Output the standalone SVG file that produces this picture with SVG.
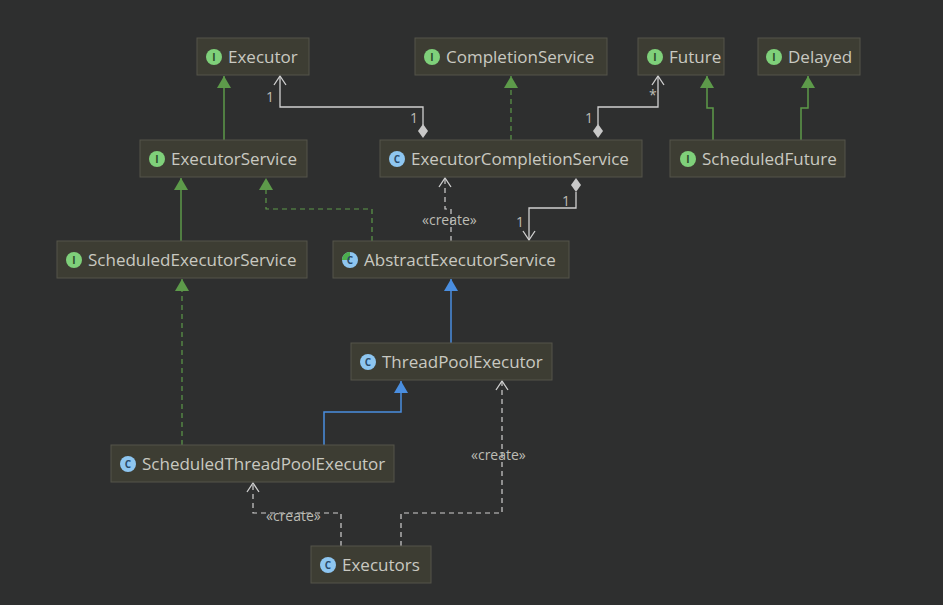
<svg xmlns="http://www.w3.org/2000/svg" width="943" height="605" viewBox="0 0 943 605">
<style>
.n rect{fill:#3d3d33;stroke:#55554a;stroke-width:1}
.n text{font-family:"Open Sans","DejaVu Sans",sans-serif;font-size:17px;fill:#c9c9c1}
.n text.ic{font-size:10px;font-weight:bold;text-anchor:middle;fill:#2b4a2b}
.n text.icc{fill:#2a4a6a}
.ci{fill:#8ec6f0}.ii{fill:#7fd07a}
.gs{stroke:#5d9a4a;stroke-width:1.5;fill:none}
.gd{stroke:#5d9a4a;stroke-width:1.2;fill:none;stroke-dasharray:5,4}
.ws{stroke:#d0d0d0;stroke-width:1.3;fill:none}
.wd{stroke:#d0d0d0;stroke-width:1.2;fill:none;stroke-dasharray:5,4}
.bs{stroke:#4a8ee0;stroke-width:1.5;fill:none}
.lb{font-family:"Open Sans","DejaVu Sans",sans-serif;font-size:14px;fill:#bdbdb5}
</style>
<defs>
<marker id="gt" markerWidth="14" markerHeight="14" refX="13" refY="7" orient="auto" markerUnits="userSpaceOnUse" viewBox="0 0 14 14"><path d="M13 7 L1 0 L1 14 Z" fill="#5d9a4a"/></marker>
<marker id="bt" markerWidth="14" markerHeight="14" refX="13" refY="7" orient="auto" markerUnits="userSpaceOnUse" viewBox="0 0 14 14"><path d="M13 7 L1 0 L1 14 Z" fill="#4a8ee0"/></marker>
<marker id="oa" markerWidth="14" markerHeight="14" refX="13" refY="7" orient="auto" markerUnits="userSpaceOnUse" viewBox="0 0 14 14"><path d="M4 1 L13 7 L4 13" fill="none" stroke="#d0d0d0" stroke-width="1.3"/></marker>
</defs>
<rect width="943" height="605" fill="#2e2f2f"/>
<g id="connectors">
<path class="gs" d="M224 140 V76" marker-end="url(#gt)"/>
<path class="ws" d="M423 125 V107 H280 V76" marker-end="url(#oa)"/>
<path d="M423 124 L428 131 L423 138 L418 131 Z" fill="#c8c8c8"/>
<path class="gd" d="M511 140 V76" marker-end="url(#gt)"/>
<path class="ws" d="M598 125 V107 H658 V76" marker-end="url(#oa)"/>
<path d="M598 124 L603 131 L598 138 L593 131 Z" fill="#c8c8c8"/>
<path class="gs" d="M713 140 V108 H707 V76" marker-end="url(#gt)"/>
<path class="gs" d="M801 140 V108 H808 V76" marker-end="url(#gt)"/>
<path class="gs" d="M181 241 V178" marker-end="url(#gt)"/>
<path class="gd" d="M372 241 V209 H266 V178" marker-end="url(#gt)"/>
<path class="wd" d="M451 241 V209 H445 V178" marker-end="url(#oa)"/>
<path class="ws" d="M576 192 V208 H529 V240" marker-end="url(#oa)"/>
<path d="M576 178 L581 185 L576 192 L571 185 Z" fill="#c8c8c8"/>
<path class="bs" d="M451 343 V279" marker-end="url(#bt)"/>
<path class="gd" d="M182 445 V279" marker-end="url(#gt)"/>
<path class="bs" d="M324 445 V412 H401 V381" marker-end="url(#bt)"/>
<path class="wd" d="M341 546 V513 H253 V483" marker-end="url(#oa)"/>
<path class="wd" d="M401 546 V513 H502 V381" marker-end="url(#oa)"/>
<text class="lb" x="266" y="102">1</text>
<text class="lb" x="410" y="123">1</text>
<text class="lb" x="585" y="123">1</text>
<text class="lb" x="649" y="100">*</text>
<text class="lb" x="562" y="206">1</text>
<text class="lb" x="516" y="227">1</text>
<text class="lb" x="422" y="225">«create»</text>
<text class="lb" x="266" y="521">«create»</text>
<text class="lb" x="471" y="460">«create»</text>
</g>
<g id="Executor" class="n"><rect x="197" y="38" width="112" height="37"/><circle class="ii" cx="214" cy="57" r="8"/><text class="ic" x="214" y="61">I</text><text x="228" y="63">Executor</text></g>
<g id="CompletionService" class="n"><rect x="415" y="38" width="192" height="37"/><circle class="ii" cx="432" cy="57" r="8"/><text class="ic" x="432" y="61">I</text><text x="446" y="63">CompletionService</text></g>
<g id="Future" class="n"><rect x="638" y="38" width="86" height="37"/><circle class="ii" cx="655" cy="57" r="8"/><text class="ic" x="655" y="61">I</text><text x="669" y="63">Future</text></g>
<g id="Delayed" class="n"><rect x="758" y="38" width="102" height="37"/><circle class="ii" cx="774" cy="57" r="8"/><text class="ic" x="774" y="61">I</text><text x="788" y="63">Delayed</text></g>
<g id="ExecutorService" class="n"><rect x="140" y="140" width="167" height="37"/><circle class="ii" cx="157" cy="159" r="8"/><text class="ic" x="157" y="163">I</text><text x="171" y="165">ExecutorService</text></g>
<g id="ExecutorCompletionService" class="n"><rect x="380" y="140" width="262" height="37"/><circle class="ci" cx="397" cy="159" r="8"/><text class="ic icc" x="397" y="163">C</text><text x="411" y="165">ExecutorCompletionService</text></g>
<g id="ScheduledFuture" class="n"><rect x="670" y="140" width="175" height="37"/><circle class="ii" cx="688" cy="159" r="8"/><text class="ic" x="688" y="163">I</text><text x="702" y="165">ScheduledFuture</text></g>
<g id="ScheduledExecutorService" class="n"><rect x="57" y="241" width="250" height="37"/><circle class="ii" cx="74" cy="260" r="8"/><text class="ic" x="74" y="264">I</text><text x="88" y="266">ScheduledExecutorService</text></g>
<g id="AbstractExecutorService" class="n"><rect x="333" y="241" width="236" height="37"/><circle class="ci" cx="350" cy="260" r="8"/><path d="M350 252 A8 8 0 0 0 342 260 L350 260 Z" fill="#4cae4c"/><text class="ic icc" x="350" y="264">C</text><text x="364" y="266">AbstractExecutorService</text></g>
<g id="ThreadPoolExecutor" class="n"><rect x="351" y="343" width="201" height="37"/><circle class="ci" cx="368" cy="362" r="8"/><text class="ic icc" x="368" y="366">C</text><text x="382" y="368">ThreadPoolExecutor</text></g>
<g id="ScheduledThreadPoolExecutor" class="n"><rect x="111" y="445" width="283" height="37"/><circle class="ci" cx="128" cy="464" r="8"/><text class="ic icc" x="128" y="468">C</text><text x="142" y="470">ScheduledThreadPoolExecutor</text></g>
<g id="Executors" class="n"><rect x="311" y="546" width="120" height="37"/><circle class="ci" cx="328" cy="565" r="8"/><text class="ic icc" x="328" y="569">C</text><text x="342" y="571">Executors</text></g>
</svg>
